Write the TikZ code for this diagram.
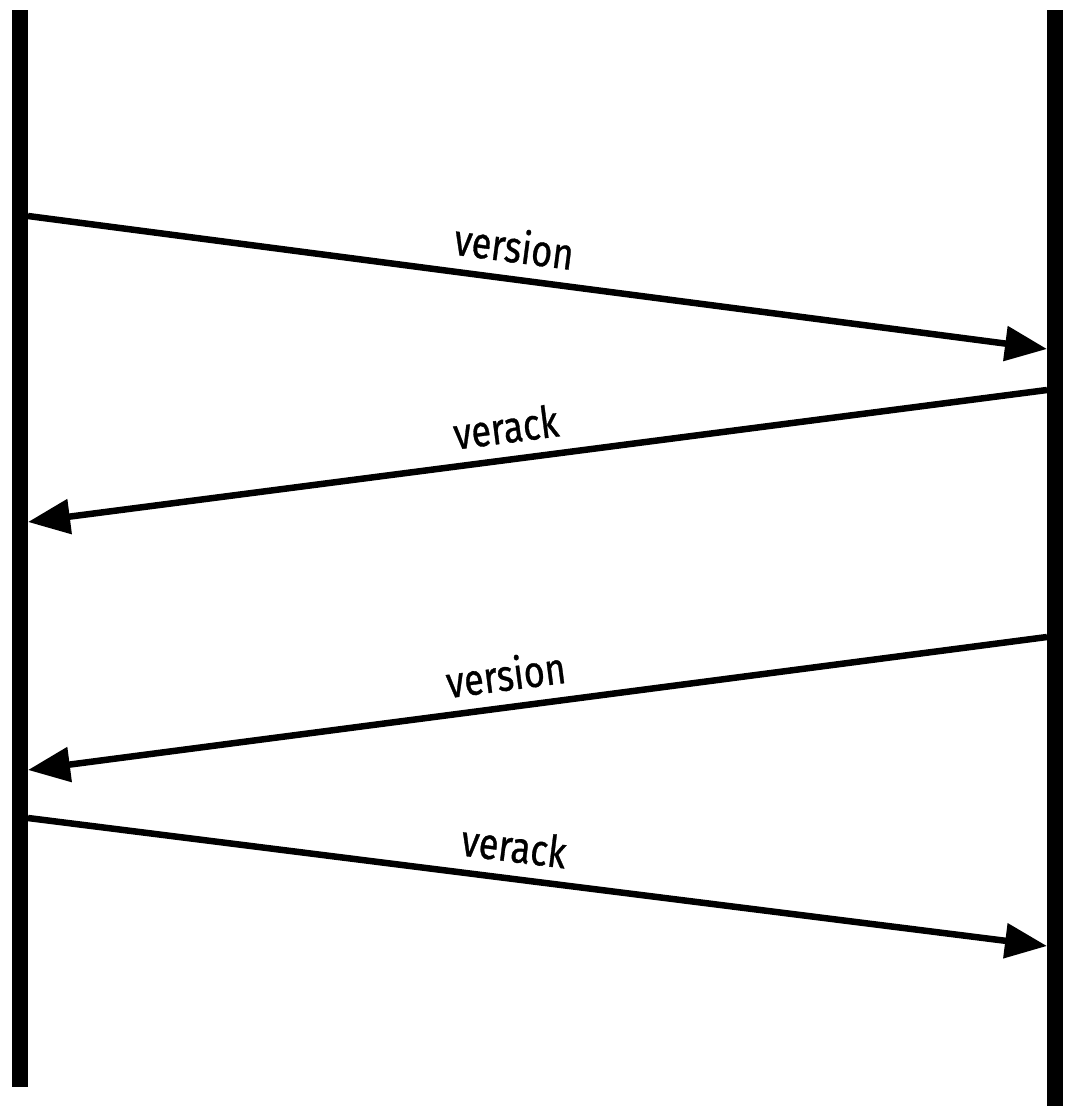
\documentclass[tikz,border=0pt]{standalone}
\usepackage{fontspec}
\setmainfont{Fira Sans}
\newfontfamily\lblfont{Fira Sans}[FakeBold=0.8]
\usetikzlibrary{arrows.meta}
\newcommand{\msglabel}[1]{\scalebox{0.82}[1]{#1}}
\begin{document}
\begin{tikzpicture}[x=1pt,y=-1pt,
  lifeline/.style={line width=16pt},
  msg/.style={line width=6.5pt,-{Triangle[length=42pt,width=34pt]}},
  lbl/.style={font=\lblfont\fontsize{44}{46}\selectfont,sloped,above=8pt,inner sep=5pt}]
\useasboundingbox (0,0) rectangle (1069,1106);
\draw[lifeline] (20,10) -- (20,1087);
\draw[lifeline] (1055,10) -- (1055,1106);
\coordinate (a1) at (28,216);
\coordinate (b1) at (1047,349);
\coordinate (b2) at (1047,390);
\coordinate (a2) at (28,522);
\coordinate (b3) at (1047,637);
\coordinate (a3) at (28,770);
\coordinate (a4) at (28,818);
\coordinate (b4) at (1047,946);
\draw[msg] (a1) -- node[lbl,pos=0.473] (l1) {\msglabel{version}} (b1);
\draw[msg] (b2) -- node[lbl,pos=0.527] (l2) {\msglabel{verack}} (a2);
\draw[msg] (b3) -- node[lbl,pos=0.527] (l3) {\msglabel{version}} (a3);
\draw[msg] (a4) -- node[lbl,pos=0.473] (l4) {\msglabel{verack}} (b4);
\end{tikzpicture}
\end{document}
